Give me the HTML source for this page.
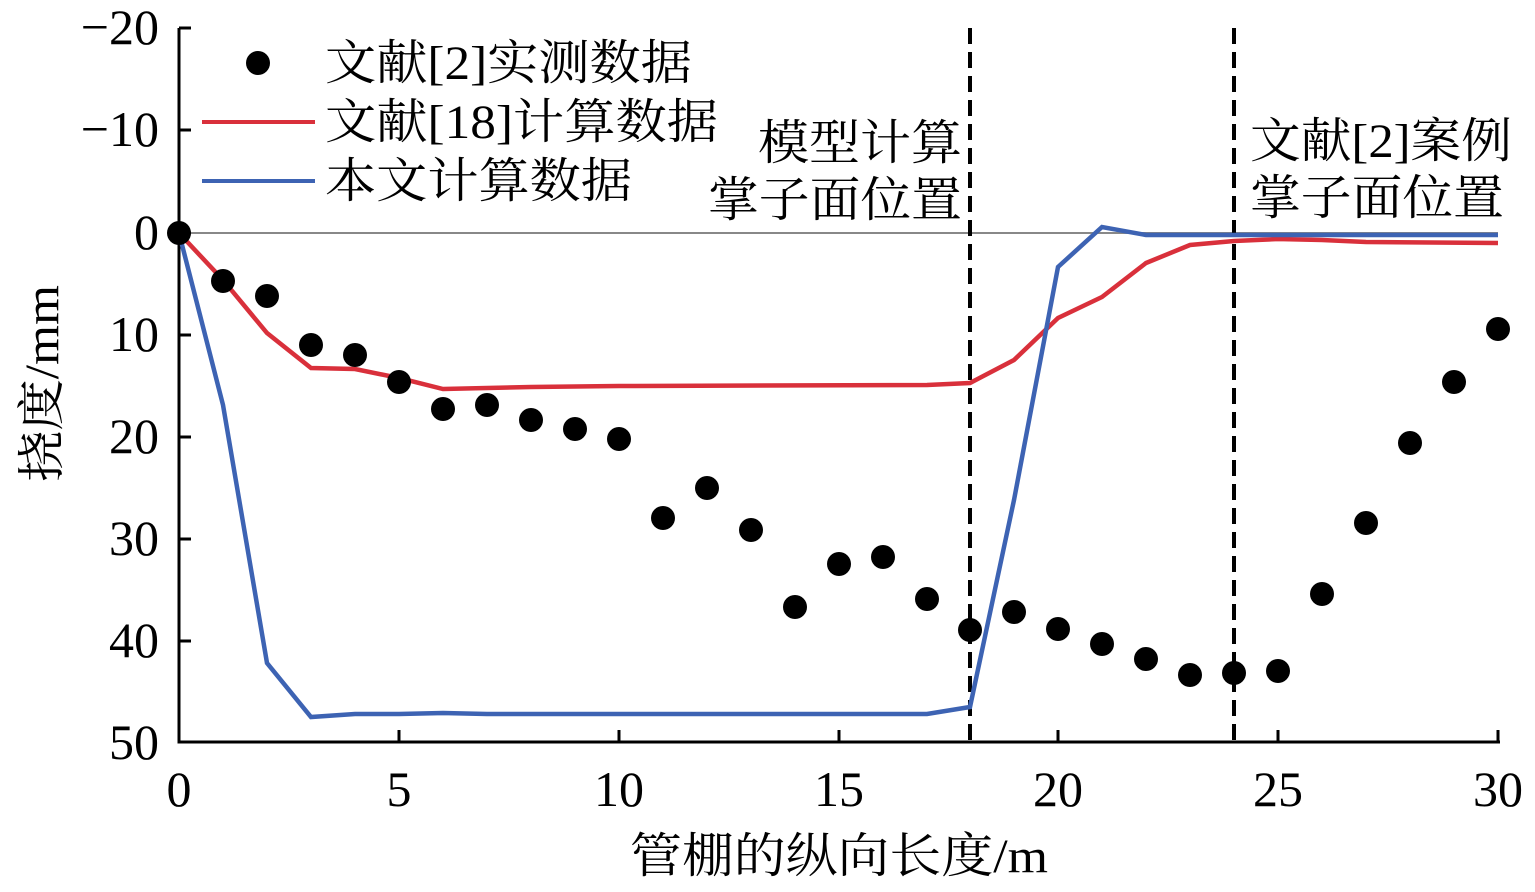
<!DOCTYPE html><html><head><meta charset="utf-8"><style>body{margin:0;background:#fff}</style></head><body>
<svg width="1535" height="887" xmlns="http://www.w3.org/2000/svg" font-family="'Liberation Serif','Noto Serif CJK SC',serif" font-size="48">
<line x1="179" y1="233" x2="1498" y2="233" stroke="#888" stroke-width="2"/>
<g stroke="#000" stroke-width="3" fill="none">
<path d="M179,28 V742 H1500"/>
<path d="M179,28 h12 M179,130 h12 M179,233 h12 M179,335 h12 M179,437 h12 M179,539 h12 M179,641 h12"/>
<path d="M399,742 v-12 M619,742 v-12 M839,742 v-12 M1058,742 v-12 M1278,742 v-12 M1498,742 v-12"/>
<path d="M970,28 V742 M1234,28 V742" stroke-width="4" stroke-dasharray="16,8"/>
</g>
<polyline fill="none" stroke="#d9303b" stroke-width="4.5" points="179,233 223,280 267,333 311,368 355,369 399,378 443,389 487,388 531,387 619,386 927,385 970,383 1014,360 1058,318 1102,297 1146,263 1190,245 1234,241 1278,239 1322,240 1366,242 1498,243"/>
<polyline fill="none" stroke="#3d63b3" stroke-width="4.5" points="179,233 223,405 267,663 311,717 355,714 399,714 443,713 487,714 927,714 970,707 1014,500 1058,267 1102,227 1146,235 1498,235"/>
<g fill="#000">
<circle cx="179" cy="233" r="12"/><circle cx="223" cy="281" r="12"/><circle cx="267" cy="296" r="12"/><circle cx="311" cy="345" r="12"/><circle cx="355" cy="355" r="12"/><circle cx="399" cy="382" r="12"/><circle cx="443" cy="409" r="12"/><circle cx="487" cy="405" r="12"/><circle cx="531" cy="420" r="12"/><circle cx="575" cy="429" r="12"/><circle cx="619" cy="439" r="12"/><circle cx="663" cy="518" r="12"/><circle cx="707" cy="488" r="12"/><circle cx="751" cy="530" r="12"/><circle cx="795" cy="607" r="12"/><circle cx="839" cy="564" r="12"/><circle cx="883" cy="557" r="12"/><circle cx="927" cy="599" r="12"/><circle cx="970" cy="630" r="12"/><circle cx="1014" cy="612" r="12"/><circle cx="1058" cy="629" r="12"/><circle cx="1102" cy="644" r="12"/><circle cx="1146" cy="659" r="12"/><circle cx="1190" cy="675" r="12"/><circle cx="1234" cy="673" r="12"/><circle cx="1278" cy="671" r="12"/><circle cx="1322" cy="594" r="12"/><circle cx="1366" cy="523" r="12"/><circle cx="1410" cy="443" r="12"/><circle cx="1454" cy="382" r="12"/><circle cx="1498" cy="329" r="12"/>
<circle cx="258" cy="63" r="12"/>
</g>
<g text-anchor="end" font-size="50">
<text x="159" y="44">−20</text><text x="159" y="146">−10</text><text x="159" y="249">0</text><text x="159" y="351">10</text><text x="159" y="453">20</text><text x="159" y="555">30</text><text x="159" y="657">40</text><text x="159" y="759">50</text>
</g>
<g text-anchor="middle" font-size="50">
<text x="179" y="806">0</text><text x="399" y="806">5</text><text x="619" y="806">10</text><text x="839" y="806">15</text><text x="1058" y="806">20</text><text x="1278" y="806">25</text><text x="1498" y="806">30</text>
</g>
<text x="630" y="872" textLength="418" lengthAdjust="spacingAndGlyphs">管棚的纵向长度/m</text>
<text transform="translate(58,482) rotate(-90)" textLength="197" lengthAdjust="spacingAndGlyphs">挠度/mm</text>
<line x1="202" y1="122" x2="315" y2="122" stroke="#d9303b" stroke-width="4"/>
<line x1="202" y1="181" x2="315" y2="181" stroke="#3d63b3" stroke-width="4"/>
<text x="325" y="79" textLength="367" lengthAdjust="spacingAndGlyphs">文献[2]实测数据</text>
<text x="325" y="138" textLength="393" lengthAdjust="spacingAndGlyphs">文献[18]计算数据</text>
<text x="325" y="197" textLength="307" lengthAdjust="spacingAndGlyphs">本文计算数据</text>
<text x="758" y="159" textLength="204" lengthAdjust="spacingAndGlyphs">模型计算</text>
<text x="708" y="216" textLength="254" lengthAdjust="spacingAndGlyphs">掌子面位置</text>
<text x="1250" y="157" textLength="262" lengthAdjust="spacingAndGlyphs">文献[2]案例</text>
<text x="1250" y="214" textLength="254" lengthAdjust="spacingAndGlyphs">掌子面位置</text>
</svg>
</body></html>
